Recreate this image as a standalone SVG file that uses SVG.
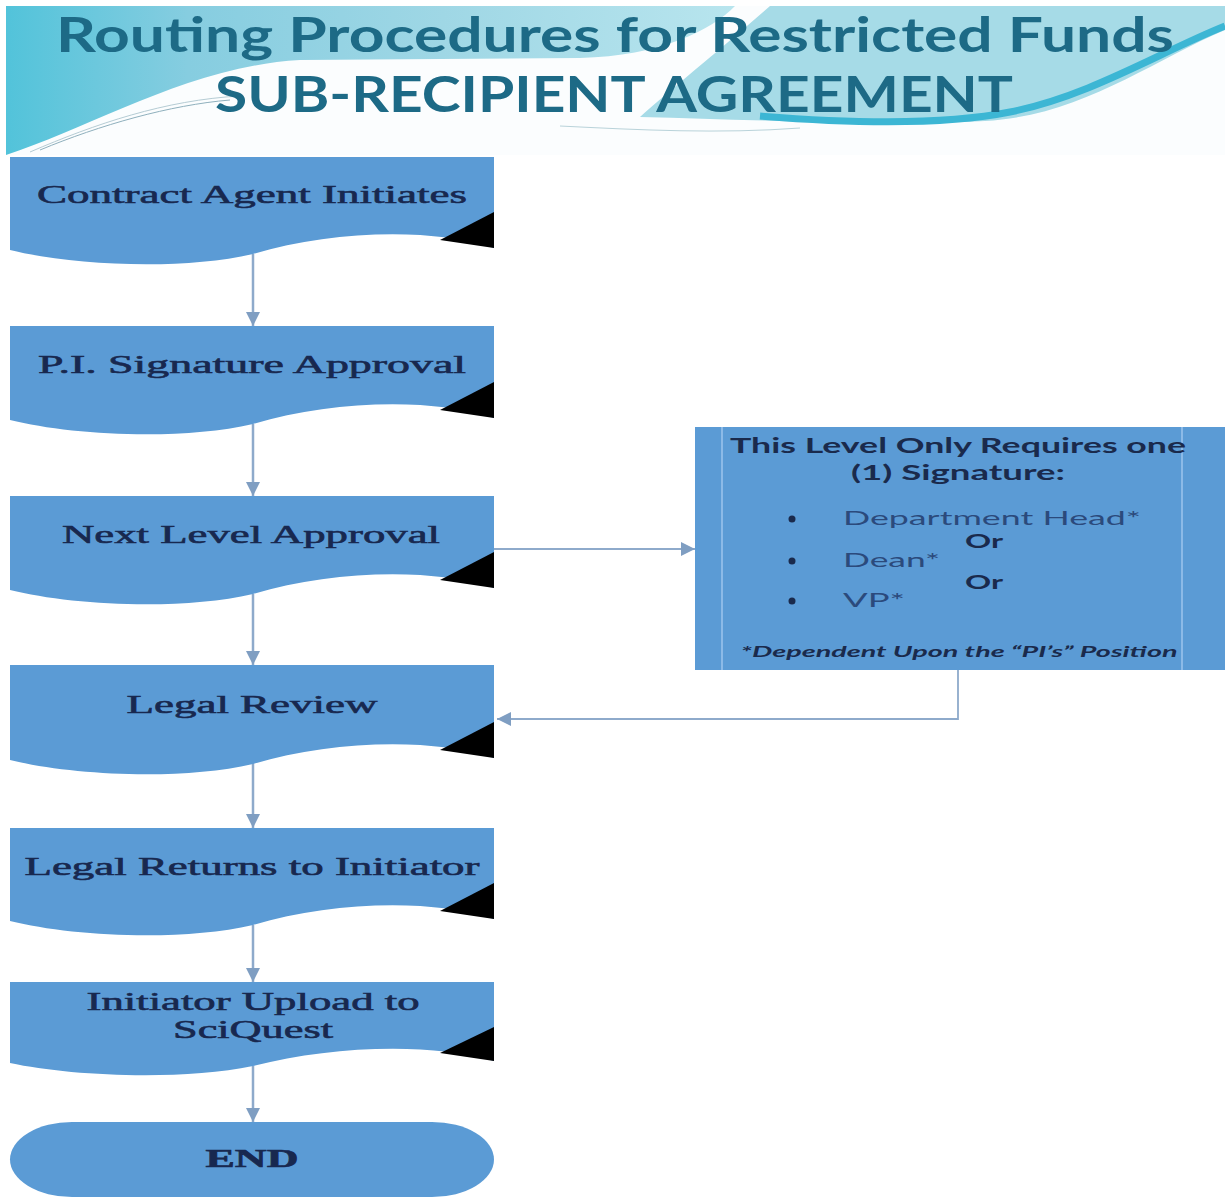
<svg xmlns="http://www.w3.org/2000/svg" width="1225" height="1198" viewBox="0 0 1225 1198">
<defs>
<linearGradient id="hdr" x1="0" y1="0" x2="1" y2="0">
<stop offset="0" stop-color="#52c3da"/>
<stop offset="0.25" stop-color="#86cde0"/>
<stop offset="0.6" stop-color="#9fd7e5"/>
<stop offset="1" stop-color="#b8e5ee"/>
</linearGradient>
<marker id="ah" viewBox="0 0 10 10" refX="10" refY="5" markerWidth="14" markerHeight="14" markerUnits="userSpaceOnUse" orient="auto">
<path d="M0,0 L10,5 L0,10 Z" fill="#7f9ec2"/>
</marker>
</defs>
<style>
.doc{fill:#5b9bd5}
.fold{fill:#000}
.lbl{font-family:"Liberation Serif","Times New Roman",serif;font-size:26px;fill:#18284f;stroke:#18284f;stroke-width:0.6;text-anchor:middle}
.con{stroke:#8eaacb;stroke-width:2.5;fill:none}
.conh{stroke:#8eaacb;stroke-width:1.8;fill:none}
.rt{font-family:Lato,"Liberation Sans",sans-serif;fill:#1a2a4c}
.it{fill:#2b4a7c}
.title{font-family:Lato,"Open Sans",sans-serif;font-weight:bold;fill:#1d6a86}
</style>

<g id="header">
<rect x="6" y="6" width="1219" height="149" fill="#fbfdfe"/>
<path d="M6,6 L735,6 C712,30 660,56 580,58 L300,60 C190,66 90,128 6,155 Z" fill="url(#hdr)"/>
<path d="M770,6 L1225,6 L1225,30 C1150,62 1080,116 985,121 C880,126 760,120 640,117 C670,90 720,50 770,6 Z" fill="#a6dbe7"/>
<path d="M760,116 C860,124 950,124 1010,112 C1090,96 1160,52 1225,26" stroke="#3cb6d4" stroke-width="7" fill="none"/>
<path d="M40,150 C100,125 170,105 230,100" stroke="#8fb0bd" stroke-width="1" fill="none"/>
<path d="M30,152 C95,124 165,100 240,96" stroke="#b5ccd4" stroke-width="1" fill="none"/>
<path d="M560,126 C640,130 720,134 800,128" stroke="#b9d3da" stroke-width="1" fill="none"/>
<text class="title" x="615" y="52" font-size="47" text-anchor="middle" textLength="1118" lengthAdjust="spacingAndGlyphs">Routing Procedures for Restricted Funds</text>
<text class="title" x="614" y="112" font-size="49" text-anchor="middle" textLength="798" lengthAdjust="spacingAndGlyphs">SUB-RECIPIENT AGREEMENT</text>
</g>

<g id="connectors">
<line class="con" x1="253" y1="254" x2="253" y2="326" marker-end="url(#ah)"/>
<line class="con" x1="253" y1="424" x2="253" y2="496" marker-end="url(#ah)"/>
<line class="con" x1="253" y1="594" x2="253" y2="665" marker-end="url(#ah)"/>
<line class="con" x1="253" y1="763" x2="253" y2="828" marker-end="url(#ah)"/>
<line class="con" x1="253" y1="925" x2="253" y2="982" marker-end="url(#ah)"/>
<line class="con" x1="253" y1="1066" x2="253" y2="1122" marker-end="url(#ah)"/>
<line class="conh" x1="494" y1="549" x2="695" y2="549" marker-end="url(#ah)"/>
<polyline class="conh" points="958,670 958,719 497,719" marker-end="url(#ah)"/>
</g>

<g id="n1">
<path class="doc" d="M10,157 L494,157 L494,248 C430,227 330,231 253,254 C180,271 70,265 10,250 Z"/>
<polygon class="fold" points="494,212 440,240 494,248"/>
<text class="lbl" x="252" y="203" textLength="430" lengthAdjust="spacingAndGlyphs">Contract Agent Initiates</text>
</g>
<g id="n2">
<path class="doc" d="M10,326 L494,326 L494,418 C430,397 330,401 253,424 C180,441 70,435 10,420 Z"/>
<polygon class="fold" points="494,382 440,410 494,418"/>
<text class="lbl" x="252" y="373" textLength="428" lengthAdjust="spacingAndGlyphs">P.I. Signature Approval</text>
</g>
<g id="n3">
<path class="doc" d="M10,496 L494,496 L494,588 C430,567 330,571 253,594 C180,611 70,605 10,590 Z"/>
<polygon class="fold" points="494,552 440,580 494,588"/>
<text class="lbl" x="251" y="543" textLength="378" lengthAdjust="spacingAndGlyphs">Next Level Approval</text>
</g>
<g id="n4">
<path class="doc" d="M10,665 L494,665 L494,758 C430,737 330,741 253,764 C180,781 70,775 10,760 Z"/>
<polygon class="fold" points="494,722 440,750 494,758"/>
<text class="lbl" x="252" y="713" textLength="251" lengthAdjust="spacingAndGlyphs">Legal Review</text>
</g>
<g id="n5">
<path class="doc" d="M10,828 L494,828 L494,919 C430,898 330,902 253,925 C180,942 70,936 10,921 Z"/>
<polygon class="fold" points="494,883 440,911 494,919"/>
<text class="lbl" x="252" y="875" textLength="455" lengthAdjust="spacingAndGlyphs">Legal Returns to Initiator</text>
</g>
<g id="n6">
<path class="doc" d="M10,982 L494,982 L494,1061 C430,1042 330,1046 253,1066 C180,1081 70,1076 10,1063 Z"/>
<polygon class="fold" points="494,1027 440,1053 494,1061"/>
<text class="lbl" x="253" y="1010" textLength="333" lengthAdjust="spacingAndGlyphs">Initiator Upload to</text>
<text class="lbl" x="253" y="1038" textLength="160" lengthAdjust="spacingAndGlyphs">SciQuest</text>
</g>
<g id="end">
<rect class="doc" x="10" y="1122" width="484" height="75" rx="62" ry="37.5"/>
<text class="lbl" x="252" y="1167" font-weight="bold" textLength="93" lengthAdjust="spacingAndGlyphs">END</text>
</g>

<g id="note">
<rect class="doc" x="695" y="427" width="530" height="243"/>
<line x1="722" y1="427" x2="722" y2="670" stroke="#9cc4ec" stroke-width="1.5"/>
<line x1="1182" y1="427" x2="1182" y2="670" stroke="#9cc4ec" stroke-width="1.5"/>
<text class="rt" x="958" y="453" font-size="21" font-weight="bold" text-anchor="middle" textLength="456" lengthAdjust="spacingAndGlyphs">This Level Only Requires one</text>
<text class="rt" x="958" y="480" font-size="21" font-weight="bold" text-anchor="middle" textLength="214" lengthAdjust="spacingAndGlyphs">(1) Signature:</text>
<circle cx="792" cy="519" r="3.5" fill="#1a2a4c"/>
<circle cx="792" cy="561" r="3.5" fill="#1a2a4c"/>
<circle cx="792" cy="601" r="3.5" fill="#1a2a4c"/>
<text class="rt it" x="843" y="525" font-size="20" textLength="298" lengthAdjust="spacingAndGlyphs">Department Head*</text>
<text class="rt" x="984" y="548" font-size="18" font-weight="bold" text-anchor="middle" textLength="38" lengthAdjust="spacingAndGlyphs">Or</text>
<text class="rt it" x="843" y="567" font-size="20" textLength="97" lengthAdjust="spacingAndGlyphs">Dean*</text>
<text class="rt" x="984" y="589" font-size="18" font-weight="bold" text-anchor="middle" textLength="38" lengthAdjust="spacingAndGlyphs">Or</text>
<text class="rt it" x="843" y="607" font-size="20" textLength="62" lengthAdjust="spacingAndGlyphs">VP*</text>
<text class="rt" x="959" y="657" font-size="15" font-weight="bold" font-style="italic" text-anchor="middle" textLength="437" lengthAdjust="spacingAndGlyphs">*Dependent Upon the “PI’s” Position</text>
</g>
</svg>
